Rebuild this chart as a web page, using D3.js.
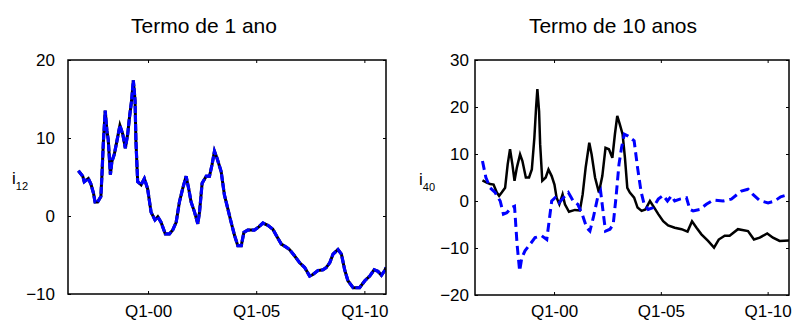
<!DOCTYPE html>
<html>
<head>
<meta charset="utf-8">
<script src="https://cdn.jsdelivr.net/npm/d3@7"></script>
<style>
  body { margin: 0; background: #fff; }
  svg { display: block; font-family: "Liberation Sans", Arial, sans-serif; }
</style>
</head>
<body>
<div class="chart"></div>
<script>
// horizontal axis in decimal years, ticks at first quarter of the year
var xTickValues = [2000, 2005, 2010];
var xTickLabels = ["Q1-00", "Q1-05", "Q1-10"];

// Termo de 1 ano (i12): observed and model lie on top of each other
var dates12 = [1996.78, 1996.98, 1997.05, 1997.24, 1997.36, 1997.48, 1997.55, 1997.67, 1997.82, 1997.87,
    1997.93, 1998.02, 1998.10, 1998.16, 1998.26, 1998.33, 1998.44, 1998.56, 1998.70, 1998.83,
    1998.95, 1999.06, 1999.14, 1999.24, 1999.32, 1999.40, 1999.44, 1999.52, 1999.68, 1999.83,
    1999.98, 2000.14, 2000.32, 2000.45, 2000.60, 2000.80, 2000.99, 2001.14, 2001.30, 2001.45,
    2001.60, 2001.76, 2001.88, 2001.99, 2002.15, 2002.30, 2002.38, 2002.50, 2002.69, 2002.84,
    2002.96, 2003.07, 2003.19, 2003.38, 2003.53, 2003.69, 2003.84, 2004.00, 2004.15, 2004.31,
    2004.43, 2004.61, 2004.92, 2005.12, 2005.31, 2005.54, 2005.77, 2005.93, 2006.16, 2006.39,
    2006.54, 2006.77, 2007.01, 2007.24, 2007.47, 2007.62, 2007.85, 2008.09, 2008.24, 2008.40,
    2008.55, 2008.78, 2008.94, 2009.09, 2009.24, 2009.48, 2009.78, 2010.02, 2010.25, 2010.45,
    2010.63, 2010.79, 2010.94, 2011.0];
var i12Actual = [5.8, 5.1, 4.4, 4.8, 4.1, 2.9, 1.8, 1.8, 2.5, 5.3,
    9.2, 13.5, 10.9, 9.8, 5.3, 7.0, 7.9, 9.6, 11.6, 10.5,
    8.7, 10.5, 12.6, 14.8, 17.4, 14.8, 9.6, 4.4, 4.0, 4.8,
    3.5, 0.5, -0.5, -0.1, -0.8, -2.3, -2.3, -1.8, -0.8, 1.8,
    3.5, 5.1, 3.5, 1.8, 0.5, -1.0, 0.5, 4.2, 5.1, 5.1,
    6.6, 8.3, 7.4, 5.7, 2.7, 0.9, -0.8, -2.5, -3.8, -3.8,
    -2.1, -1.8, -1.8, -1.4, -0.9, -1.2, -1.7, -2.5, -3.6, -4.0,
    -4.3, -5.1, -6.0, -6.6, -7.7, -7.5, -7.0, -6.9, -6.6, -6.0,
    -4.9, -4.3, -4.9, -6.9, -8.3, -9.2, -9.2, -8.3, -7.7, -6.9,
    -7.1, -7.6, -7.0, -6.6];
var i12Model = i12Actual.slice();

// Termo de 10 anos (i40): observed (solid black)
var dates40a = [1996.65, 1996.85, 1997.01, 1997.17, 1997.32, 1997.43, 1997.55, 1997.71, 1997.83, 1997.94,
    1998.05, 1998.15, 1998.26, 1998.41, 1998.52, 1998.68, 1998.83, 1998.96, 1999.08, 1999.16,
    1999.22, 1999.30, 1999.35, 1999.45, 1999.61, 1999.74, 1999.89, 2000.02, 2000.12, 2000.25,
    2000.40, 2000.51, 2000.70, 2000.98, 2001.21, 2001.34, 2001.48, 2001.65, 2001.76, 2001.92,
    2002.10, 2002.26, 2002.41, 2002.57, 2002.73, 2002.85, 2002.96, 2003.08, 2003.21, 2003.32,
    2003.43, 2003.55, 2003.75, 2003.91, 2004.10, 2004.28, 2004.49, 2004.69, 2004.88, 2005.11,
    2005.34, 2005.65, 2005.97, 2006.25, 2006.46, 2006.67, 2006.90, 2007.21, 2007.49, 2007.71,
    2007.99, 2008.22, 2008.61, 2009.08, 2009.36, 2009.63, 2009.98, 2010.25, 2010.56, 2011.0];
var i40Actual = [4.4, 3.9, 3.6, 3.5, 1.8, 1.1, 1.8, 2.8, 7.8, 11.0,
    7.8, 4.3, 7.1, 9.9, 8.5, 5.0, 5.0, 6.7, 13.5, 19.9,
    23.8, 19.1, 12.1, 4.3, 5.0, 6.7, 5.3, 3.5, 0.7, -0.7,
    1.4, -0.7, -2.3, -1.9, -2.0, 1.4, 7.1, 12.4, 9.9, 5.0,
    1.8, 5.3, 11.3, 11.0, 9.2, 14.2, 18.1, 16.3, 14.2, 9.2,
    2.8, 1.8, 0.7, -1.4, -2.1, -1.8, 0.0, -1.4, -2.8, -4.3,
    -5.2, -5.7, -6.0, -6.5, -4.3, -5.7, -7.1, -8.5, -9.9, -8.2,
    -7.4, -7.4, -6.0, -6.4, -8.2, -7.8, -6.9, -7.8, -8.5, -8.4];

// Termo de 10 anos (i40): model (dashed blue)
var dates40m = [1996.65, 1996.81, 1997.01, 1997.24, 1997.48, 1997.63, 1997.79, 1998.00, 1998.15, 1998.27,
    1998.39, 1998.49, 1998.64, 1998.88, 1999.11, 1999.42, 1999.66, 1999.77, 1999.89, 2000.05,
    2000.23, 2000.44, 2000.67, 2000.90, 2001.11, 2001.32, 2001.53, 2001.68, 2001.84, 2002.04,
    2002.18, 2002.31, 2002.41, 2002.62, 2002.77, 2002.90, 2003.04, 2003.16, 2003.29, 2003.47,
    2003.75, 2003.91, 2004.07, 2004.22, 2004.41, 2004.64, 2004.88, 2005.11, 2005.31, 2005.50,
    2005.65, 2005.89, 2006.20, 2006.36, 2006.51, 2006.82, 2007.13, 2007.45, 2007.91, 2008.30,
    2008.77, 2009.08, 2009.31, 2009.63, 2010.02, 2010.33, 2010.61, 2011.0];
var i40Model = [8.5, 5.0, 2.8, 1.8, 0.0, -2.8, -2.5, -1.4, -1.1, -9.2,
    -14.9, -12.1, -10.6, -9.2, -7.8, -7.4, -8.2, -4.3, 0.0, 0.7,
    -0.4, 0.7, 1.8, 0.0, -0.7, -2.8, -5.7, -6.4, -3.5, 0.7,
    2.1, -2.8, -6.4, -6.0, -5.0, 0.7, 7.8, 11.3, 14.2, 13.8,
    12.8, 7.1, 2.1, -0.7, -1.8, -1.4, 0.4, 1.2, 0.0, 1.1,
    0.0, 0.4, 0.7, -1.8, -2.1, -1.8, -0.7, 0.2, 0.0, 0.4,
    2.1, 2.5, 1.4, 0.1, -0.4, 0.0, 0.9, 1.4];

var width = 798, height = 320;
var xDomain = [1996.3, 2011.0];

var svg = d3.select(".chart").append("svg")
    .attr("width", width)
    .attr("height", height);

var panels = [
    { title: "Termo de 1 ano", titleX: 204, left: 68, right: 386, top: 60, bottom: 294,
      yDomain: [-10, 20], yTicks: [-10, 0, 10, 20], labelGap: 13, sub: "12", labelX: 12,
      series: [
        { dates: dates12, values: i12Actual, color: "#000", width: 3, dash: null },
        { dates: dates12, values: i12Model, color: "#0000ff", width: 3.2, dash: "7,2" }
      ] },
    { title: "Termo de 10 anos", titleX: 613, left: 475, right: 789, top: 60, bottom: 295,
      yDomain: [-20, 30], yTicks: [-20, -10, 0, 10, 20, 30], labelGap: 6, sub: "40", labelX: 419,
      series: [
        { dates: dates40a, values: i40Actual, color: "#000", width: 2.5, dash: null },
        { dates: dates40m, values: i40Model, color: "#0000ff", width: 3, dash: "9,5" }
      ] }
];

panels.forEach(function(p) {
    var x = d3.scaleLinear().domain(xDomain).range([p.left, p.right]);
    var y = d3.scaleLinear().domain(p.yDomain).range([p.bottom, p.top]);
    var g = svg.append("g");

    g.append("text")
        .attr("x", p.titleX)
        .attr("y", 33)
        .attr("text-anchor", "middle")
        .style("font-size", "21px")
        .text(p.title);

    // lines, clipped to the box
    var clipId = "clip" + p.left;
    svg.append("clipPath").attr("id", clipId)
        .append("rect")
        .attr("x", p.left).attr("y", p.top)
        .attr("width", p.right - p.left).attr("height", p.bottom - p.top);

    var line = d3.line()
        .x(function(d) { return x(d[0]); })
        .y(function(d) { return y(d[1]); });

    p.series.forEach(function(s) {
        g.append("path")
            .attr("clip-path", "url(#" + clipId + ")")
            .attr("d", line(d3.zip(s.dates, s.values)))
            .attr("fill", "none")
            .attr("stroke", s.color)
            .attr("stroke-width", s.width)
            .attr("stroke-linejoin", "miter")
            .attr("stroke-dasharray", s.dash);
    });

    // axes with inward ticks on all four sides
    var fmt = function(d) { return xTickLabels[xTickValues.indexOf(d)]; };
    g.append("g")
        .attr("transform", "translate(0," + p.bottom + ")")
        .call(d3.axisBottom(x).tickValues(xTickValues).tickFormat(fmt).tickSizeInner(-3).tickSizeOuter(0).tickPadding(305 - p.bottom));
    g.append("g")
        .attr("transform", "translate(0," + p.top + ")")
        .call(d3.axisTop(x).tickValues(xTickValues).tickFormat("").tickSizeInner(-3).tickSizeOuter(0));
    g.append("g")
        .attr("transform", "translate(" + p.left + ",0)")
        .call(d3.axisLeft(y).tickValues(p.yTicks).tickSizeInner(-3).tickSizeOuter(0).tickPadding(p.labelGap));
    g.append("g")
        .attr("transform", "translate(" + p.right + ",0)")
        .call(d3.axisRight(y).tickValues(p.yTicks).tickFormat("").tickSizeInner(-3).tickSizeOuter(0));

    g.selectAll(".domain").remove();
    g.selectAll(".tick line").attr("stroke", "#000");
    g.selectAll(".tick text")
        .attr("fill", "#000")
        .style("font-family", "'Liberation Sans', Arial, sans-serif")
        .style("font-size", "17px");

    g.append("rect")
        .attr("x", p.left).attr("y", p.top)
        .attr("width", p.right - p.left).attr("height", p.bottom - p.top)
        .attr("fill", "none")
        .attr("stroke", "#000")
        .attr("stroke-width", 1.5);

    var lab = g.append("text")
        .attr("x", p.labelX)
        .attr("y", (p.top + p.bottom) / 2 + 7)
        .style("font-size", "17px");
    lab.append("tspan").text("i");
    lab.append("tspan").attr("dy", 6).style("font-size", "11px").text(p.sub);
});
</script>
</body>
</html>
